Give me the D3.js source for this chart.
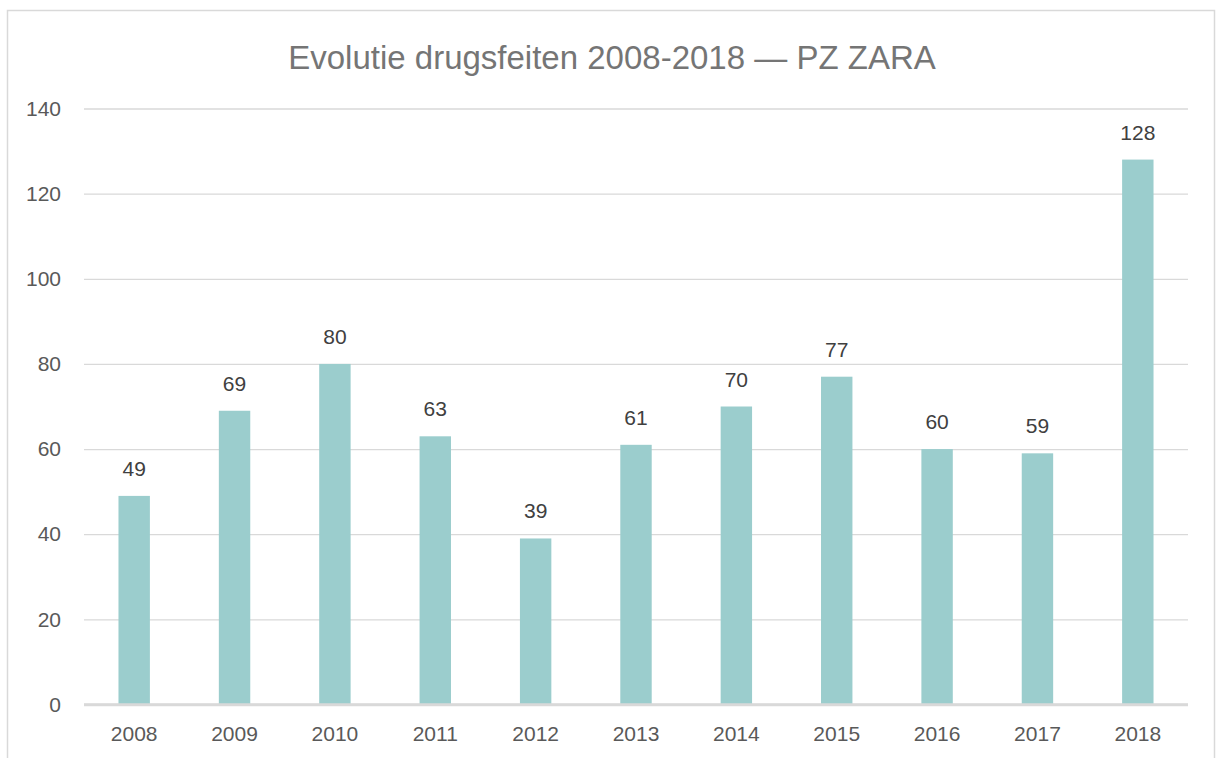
<!DOCTYPE html>
<html>
<head>
<meta charset="utf-8">
<script src="https://cdn.jsdelivr.net/npm/d3@7"></script>
<style>
  body { margin: 0; background: #fff; }
  text { font-family: "Liberation Sans", Arial, sans-serif; }
</style>
</head>
<body>
<div id="chart"></div>
<script>
// data
var years = ["2008","2009","2010","2011","2012","2013","2014","2015","2016","2017","2018"];
var feiten = [49, 69, 80, 63, 39, 61, 70, 77, 60, 59, 128];
var yTicks = [0, 20, 40, 60, 80, 100, 120, 140];
var title = "Evolutie drugsfeiten 2008-2018 \u2014 PZ ZARA";

var W = 1217, H = 758;
var svg = d3.select("#chart").append("svg")
  .attr("width", W)
  .attr("height", H);

// chart frame
svg.append("rect")
  .attr("x", 7.5).attr("y", 10.5)
  .attr("width", 1207).attr("height", 770)
  .attr("fill", "#fff")
  .attr("stroke", "#d9d9d9")
  .attr("stroke-width", 1.5);

var x = d3.scaleBand()
  .domain(years)
  .range([84, 1188])
  .paddingInner(0.687)
  .paddingOuter(0.3435);

var y = d3.scaleLinear()
  .domain([0, 140])
  .range([704.5, 108.5]);

// gridlines + y labels
var yAxis = d3.axisLeft(y)
  .tickValues(yTicks)
  .tickSize(-(1188 - 84))
  .tickPadding(23)
  .tickFormat(d3.format("d"));

var gy = svg.append("g")
  .attr("transform", "translate(84,0)")
  .call(yAxis);
gy.select(".domain").remove();
gy.selectAll(".tick line")
  .attr("stroke", "#d9d9d9")
  .attr("stroke-width", function(d) { return d == 0 ? 2.5 : 1.3; });
gy.selectAll(".tick text")
  .attr("fill", "#595959")
  .style("font-size", "21px");

// bars
svg.selectAll("rect.bar")
  .data(feiten)
  .enter()
  .append("rect")
    .attr("class", "bar")
    .attr("x", function(d, i) { return x(years[i]); })
    .attr("y", function(d) { return y(d); })
    .attr("width", x.bandwidth())
    .attr("height", function(d) { return y(0) - y(d); })
    .attr("fill", "#9bcdcd");

// baseline on top of the bars
svg.append("line")
  .attr("x1", 84).attr("x2", 1188)
  .attr("y1", y(0)).attr("y2", y(0))
  .attr("stroke", "#d9d9d9")
  .attr("stroke-width", 2.5);

// data labels
svg.selectAll("text.val")
  .data(feiten)
  .enter()
  .append("text")
    .attr("class", "val")
    .attr("x", function(d, i) { return x(years[i]) + x.bandwidth() / 2; })
    .attr("y", function(d) { return y(d) - 20; })
    .attr("text-anchor", "middle")
    .attr("fill", "#404040")
    .style("font-size", "21px")
    .text(function(d) { return d; });

// x labels
var gx = svg.append("g")
  .attr("transform", "translate(0," + y(0) + ")")
  .call(d3.axisBottom(x).tickSize(0).tickPadding(22));
gx.select(".domain").remove();
gx.selectAll(".tick text")
  .attr("fill", "#595959")
  .style("font-size", "21px");

// title
svg.append("text")
  .attr("x", 612)
  .attr("y", 69)
  .attr("text-anchor", "middle")
  .attr("fill", "#757575")
  .style("font-size", "33px")
  .text(title);
</script>
</body>
</html>
